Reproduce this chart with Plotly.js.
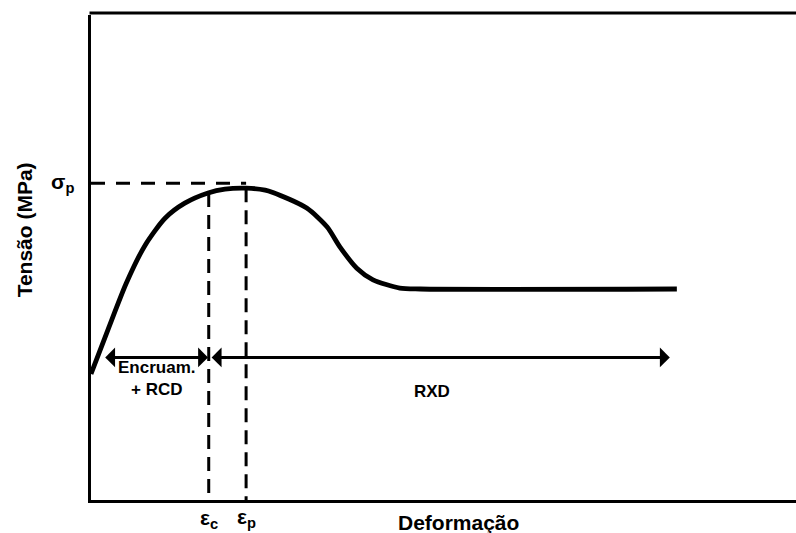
<!DOCTYPE html>
<html>
<head>
<meta charset="utf-8">
<script src="https://cdn.plot.ly/plotly-3.0.1.min.js"></script>
<style>
  html, body { margin: 0; padding: 0; background: #fff; }
  #chart { width: 796px; height: 533px; }
</style>
</head>
<body>
<div id="chart"></div>
<script>
// Flow curve (schematic): strain vs. stress, arbitrary units
const strain = [0.0, 2.4, 5.0, 7.7, 10.5, 13.3, 16.6, 19.0, 22.0, 24.7, 25.8, 30.6, 33.5, 35.3, 37.7, 40.0, 43.8, 46.7, 83.1];
const stress = [26.0, 35.1, 44.7, 52.6, 58.1, 61.2, 63.3, 64.1, 64.3, 63.9, 63.4, 60.2, 56.3, 52.2, 47.8, 45.4, 43.7, 43.5, 43.5];

// Characteristic points
const sigmaP = 65.3;   // peak stress
const epsC = 16.7;     // critical strain
const epsP = 22.0;     // peak strain
const stressAtEpsC = 63.3;
const stressAtEpsP = 64.3;

// Range arrows (mechanism regions)
const arrowLevel = 29.4;
const regionStart = 1.8;
const regionEnd = 82.1;
const regionLabels = ["Encruam.<br>+ RCD", "RXD"];
const regionLabelX = [9.3, 48.3];
const regionLabelY = [25.1, 22.3];

const axisTitleX = "Deformação";
const axisTitleY = "Tensão (MPa)";

const FONT = "Arial, 'Liberation Sans', sans-serif";
const black = "#000";

const traces = [
  {
    x: strain, y: stress, type: "scatter", mode: "lines",
    line: { color: black, width: 4.8, shape: "spline", smoothing: 0.7 },
    hoverinfo: "skip", cliponaxis: false
  },
  {
    // peak stress guide
    x: [0, epsP], y: [sigmaP, sigmaP], type: "scatter", mode: "lines",
    line: { color: black, width: 3, dash: "14px,11px" }, hoverinfo: "skip"
  },
  {
    x: [epsC, epsC], y: [stressAtEpsC, 0], type: "scatter", mode: "lines",
    line: { color: black, width: 3, dash: "14px,8px" }, hoverinfo: "skip"
  },
  {
    x: [epsP, epsP], y: [stressAtEpsP, 0], type: "scatter", mode: "lines",
    line: { color: black, width: 3, dash: "14px,8px" }, hoverinfo: "skip"
  }
];

function arrow(x0, x1) {
  return {
    x: x1, y: arrowLevel, ax: x0, ay: arrowLevel,
    xref: "x", yref: "y", axref: "x", ayref: "y",
    text: "", showarrow: true,
    arrowhead: 1, startarrowhead: 1, arrowside: "end+start",
    arrowwidth: 3, arrowsize: 1.1, startarrowsize: 1.1,
    arrowcolor: black, standoff: 0, startstandoff: 0
  };
}

function label(text, x, y, xref, yref, size, extra) {
  return Object.assign({
    text: text, x: x, y: y, xref: xref, yref: yref, showarrow: false,
    font: { family: FONT, size: size, color: black, weight: 700 },
    xanchor: "center", yanchor: "middle"
  }, extra || {});
}

const annotations = [
  arrow(regionStart, epsC - 0.1),
  arrow(epsC + 0.2, regionEnd),
  label(regionLabels[0], regionLabelX[0], regionLabelY[0], "x", "y", 17),
  label(regionLabels[1], regionLabelX[1], regionLabelY[1], "x", "y", 17),
  label("σ<sub>p</sub>", -0.041, sigmaP, "paper", "y", 21),
  label("ε<sub>c</sub>", epsC, -0.040, "x", "paper", 21),
  label("ε<sub>p</sub>", epsP, -0.037, "x", "paper", 21),
  label(axisTitleX, 52.1, -0.046, "x", "paper", 21),
  label(axisTitleY, -0.095, 0.556, "paper", "paper", 21, { textangle: -90 })
];

const layout = {
  width: 796, height: 533,
  margin: { l: 91, r: 0, t: 15, b: 33, pad: 0 },
  paper_bgcolor: "#fff", plot_bgcolor: "#fff",
  showlegend: false,
  xaxis: {
    range: [0, 100], showgrid: false, zeroline: false, showticklabels: false, ticks: "",
    showline: true, mirror: false, linecolor: black, linewidth: 3, fixedrange: true
  },
  yaxis: {
    range: [0, 100], showgrid: false, zeroline: false, showticklabels: false, ticks: "",
    showline: true, mirror: false, linecolor: black, linewidth: 3, fixedrange: true
  },
  shapes: [
    // top frame edge
    { type: "line", xref: "paper", yref: "paper", x0: -0.0021, x1: 1.0, y0: 1.004, y1: 1.004,
      line: { color: black, width: 3 } }
  ],
  annotations: annotations
};

Plotly.newPlot("chart", traces, layout, { staticPlot: true, displayModeBar: false });
</script>
</body>
</html>
